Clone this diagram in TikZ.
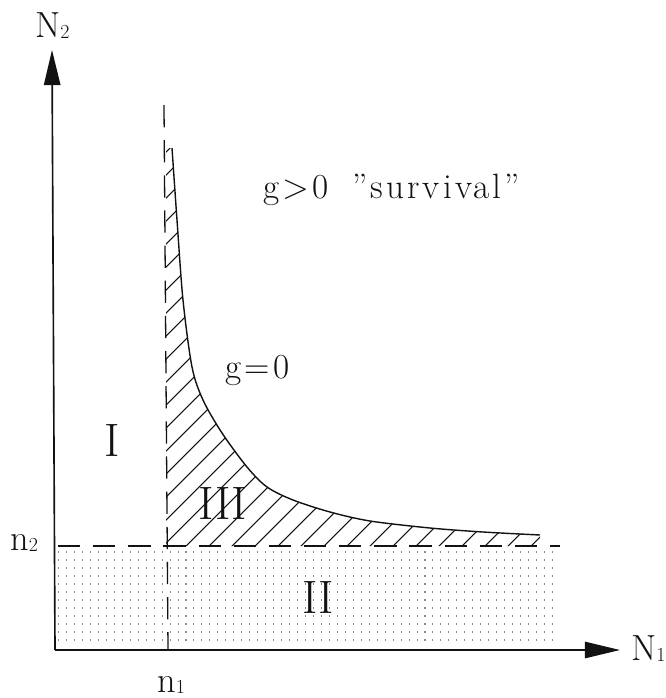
\documentclass[tikz,border=0pt]{standalone}
\usepackage{fontspec}
\usetikzlibrary{arrows.meta}
\newfontfamily\widefont[LetterSpace=9]{Latin Modern Roman}
\definecolor{ink}{RGB}{18,18,18}
\definecolor{dotgray}{RGB}{140,140,140}
\newcommand{\axidx}[1]{\raisebox{-1pt}{\fontsize{17}{17}\selectfont #1}}

\begin{document}
\begin{tikzpicture}[x=0.03cm, y=-0.03cm,
    ax/.style={line width=1.4pt, ink, -{Triangle[length=30pt,width=14pt]}},
    lim/.style={line width=1.1pt, ink, dash pattern=on 19pt off 11pt},
    bnd/.style={line width=1.2pt, ink},
    hatch/.style={line width=0.9pt, ink},
    dotrow/.style={line width=0.9pt, dotgray, dash pattern=on 0.9pt off 5.9pt},
    lbl/.style={font=\widefont\fontsize{30}{32}\selectfont, ink, inner sep=0pt},
    rom/.style={font=\fontsize{40}{40}\selectfont, ink, inner sep=0pt},
    axl/.style={font=\fontsize{31}{31}\selectfont, ink, inner sep=0pt}]
  \useasboundingbox (0,0) rectangle (665,698);

  % region II, dotted
  \foreach \yy in {552,560,...,646}
    \draw[dotrow] (58,\yy) -- (557,\yy);

  % region III, hatched under the curve g=0
  \begin{scope}
    \clip (166,148) -- plot[smooth] coordinates {(172,148) (177,220) (183,300)
          (192,367) (203,400) (222,433) (247,467) (267,487) (293,500) (330,512)
          (370,521) (430,528) (483,532) (540,535)} -- (540,546) -- (166,546) -- cycle;
    \foreach \c in {318,341,...,1100}
      \draw[hatch] ({\c-600},600) -- ({\c-100},100);
  \end{scope}
  \draw[bnd] plot[smooth] coordinates {(172,148) (177,220) (183,300)
        (192,367) (203,400) (222,433) (247,467) (267,487) (293,500) (330,512)
        (370,521) (430,528) (483,532) (540,535)};

  % limits n1 and n2
  \coordinate (n1top) at (164,105);
  \coordinate (n1bot) at (168,650);
  \coordinate (n2lft) at (58,546);
  \coordinate (n2rgt) at (560,546);
  \draw[lim] (n1top) -- (n1bot);
  \draw[lim] (n2lft) -- (n2rgt);

  % axes
  \coordinate (orig) at (55,650);
  \coordinate (ytip) at (52,50);
  \coordinate (xtip) at (620,650);
  \draw[ax] (orig) -- (ytip);
  \draw[ax] (orig) -- (xtip);

  % labels
  \node[axl,anchor=base west] (lN2) at (35,37) {N\axidx{2}};
  \node[axl,anchor=base west] (lN1) at (631,660) {N\axidx{1}};
  \node[axl,anchor=base west] (ln2) at (10,550) {n\axidx{2}};
  \node[axl,anchor=base west] (ln1) at (157,692) {n\axidx{1}};
  \node[lbl,anchor=base west] (surv) at (263,198) {g>0\hspace{20pt}”survival”};
  \node[lbl,anchor=base west] (gzero) at (225,378) {g=0};
  \node[rom] (rI) at (112,440) {I};
  \node[rom] (rII) at (318,597) {II};
  \node[rom] (rIII) at (223,503) {III};
\end{tikzpicture}
\end{document}
